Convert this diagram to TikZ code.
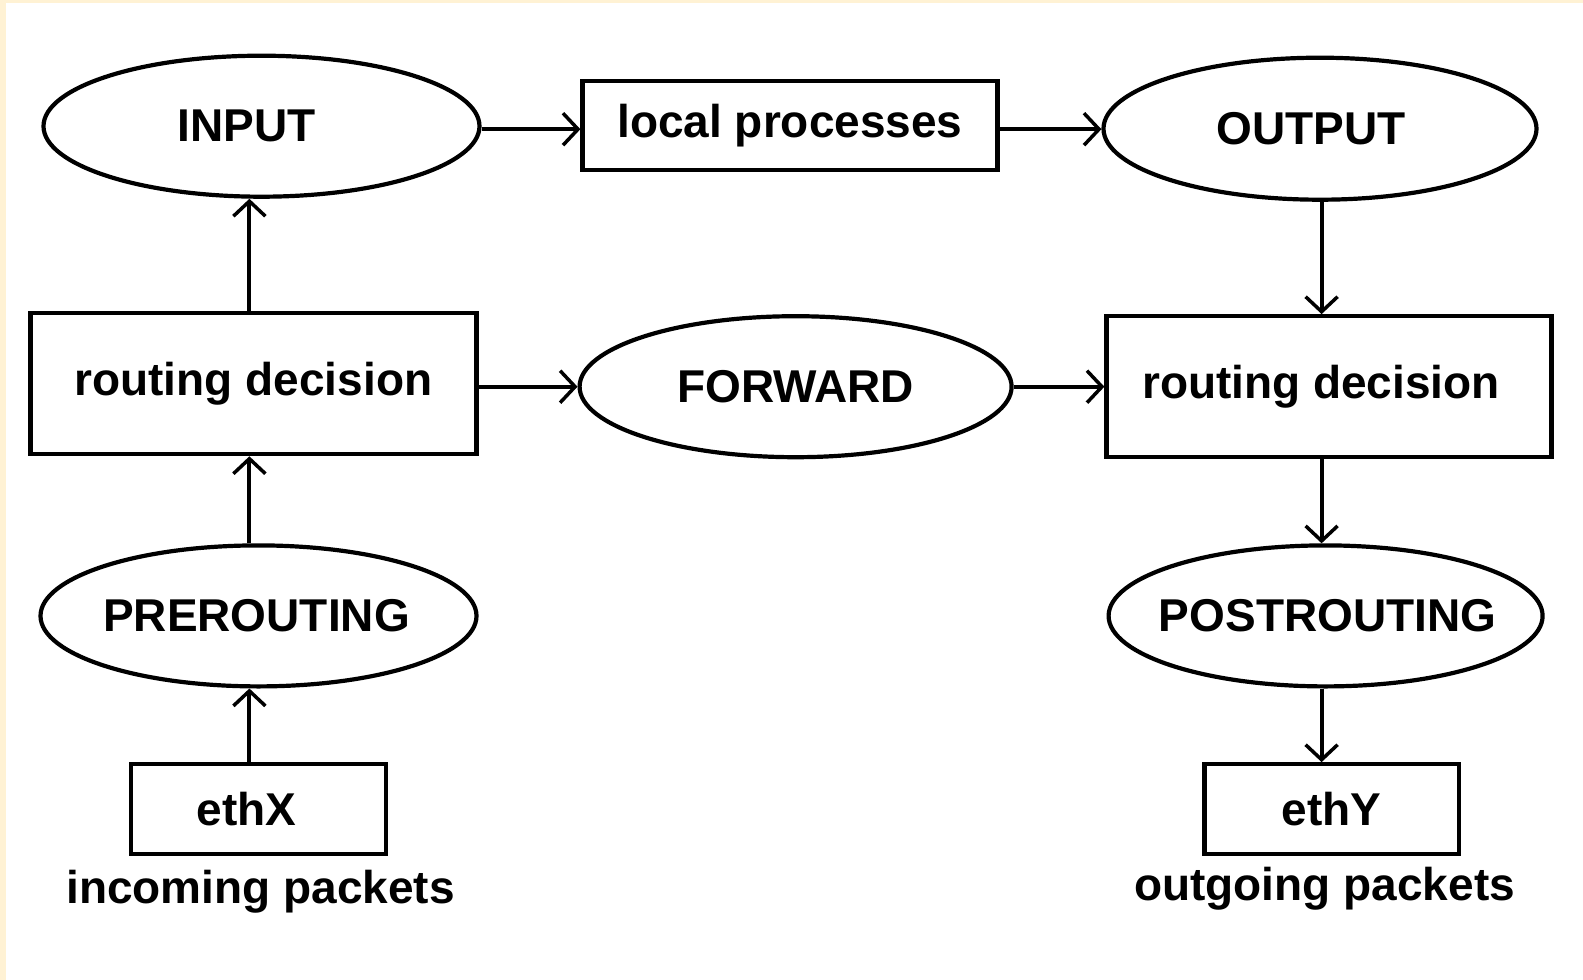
\documentclass[tikz,border=0pt]{standalone}
\usepackage{fontspec}
\setmainfont{Liberation Sans}
\usetikzlibrary{arrows.meta,shapes.geometric}
\definecolor{frameyellow}{RGB}{255,242,212}
\begin{document}
\begin{tikzpicture}[x=1pt,y=-1pt,
  lbl/.style={font=\fontsize{46}{54}\selectfont\bfseries},
  ell/.style={draw,ellipse,line width=4.2pt,inner sep=0pt},
  box/.style={draw,rectangle,line width=4.2pt,inner sep=0pt,lbl},
  arr/.style={line width=4pt,-{Straight Barb[length=15pt,width=32pt,line width=3.5pt]}}]
\fill[frameyellow] (0,0) rectangle (1583,980);
\fill[white] (6,3) rectangle (1583,980);
\useasboundingbox (0,0) rectangle (1583,980);
% nodes
\node[ell,minimum width=436pt,minimum height=141pt,label={[lbl,xshift=-15pt]center:INPUT}] (in) at (261.5,126.2) {};
\node[box,minimum width=415pt,minimum height=89pt] (lp) at (790,125.2) {local processes};
\node[ell,minimum width=433pt,minimum height=142pt,label={[lbl,xshift=-9pt]center:OUTPUT}] (out) at (1320,128.7) {};
\node[box,minimum width=446pt,minimum height=141pt] (rdl) at (253.4,383.7) {routing decision};
\node[ell,minimum width=432pt,minimum height=141pt,label={[lbl]center:FORWARD}] (fw) at (795.6,386.7) {};
\node[box,minimum width=445pt,minimum height=141pt,label={[lbl,xshift=-8pt]center:routing decision}] (rdr) at (1329,386.7) {};
\node[ell,minimum width=436pt,minimum height=141pt,label={[lbl,xshift=-2pt]center:PREROUTING}] (pre) at (258.5,615.9) {};
\node[ell,minimum width=434pt,minimum height=141pt,label={[lbl,xshift=2pt]center:POSTROUTING}] (post) at (1325.6,615.9) {};
\node[box,minimum width=254.5pt,minimum height=90pt,label={[lbl,xshift=-12pt]center:ethX}] (ethx) at (258.5,809.2) {};
\node[box,minimum width=254.5pt,minimum height=90pt] (ethy) at (1331.7,809.2) {ethY};
\node[lbl,anchor=center] (inc) at (260.5,891.5) {incoming packets};
\node[lbl,anchor=center] (outg) at (1324.5,888.4) {outgoing packets};
% guide coordinates
\coordinate (lx) at (249.4,0);
\coordinate (rx) at (1321.6,0);
\coordinate (ty) at (0,129.2);
\coordinate (my) at (0,386.7);
% connectors
\draw[arr] (ethx.north -| lx) -- (pre.south -| lx);
\draw[arr] (pre.north -| lx) -- (rdl.south -| lx);
\draw[arr] (rdl.north -| lx) -- (in.south -| lx);
\draw[arr] (in.east |- ty) -- (lp.west |- ty);
\draw[arr] (lp.east |- ty) -- (out.west |- ty);
\draw[arr] (out.south -| rx) -- (rdr.north -| rx);
\draw[arr] (rdl.east |- my) -- (fw.west |- my);
\draw[arr] (fw.east |- my) -- (rdr.west |- my);
\draw[arr] (rdr.south -| rx) -- (post.north -| rx);
\draw[arr] (post.south -| rx) -- (ethy.north -| rx);
\end{tikzpicture}
\end{document}
